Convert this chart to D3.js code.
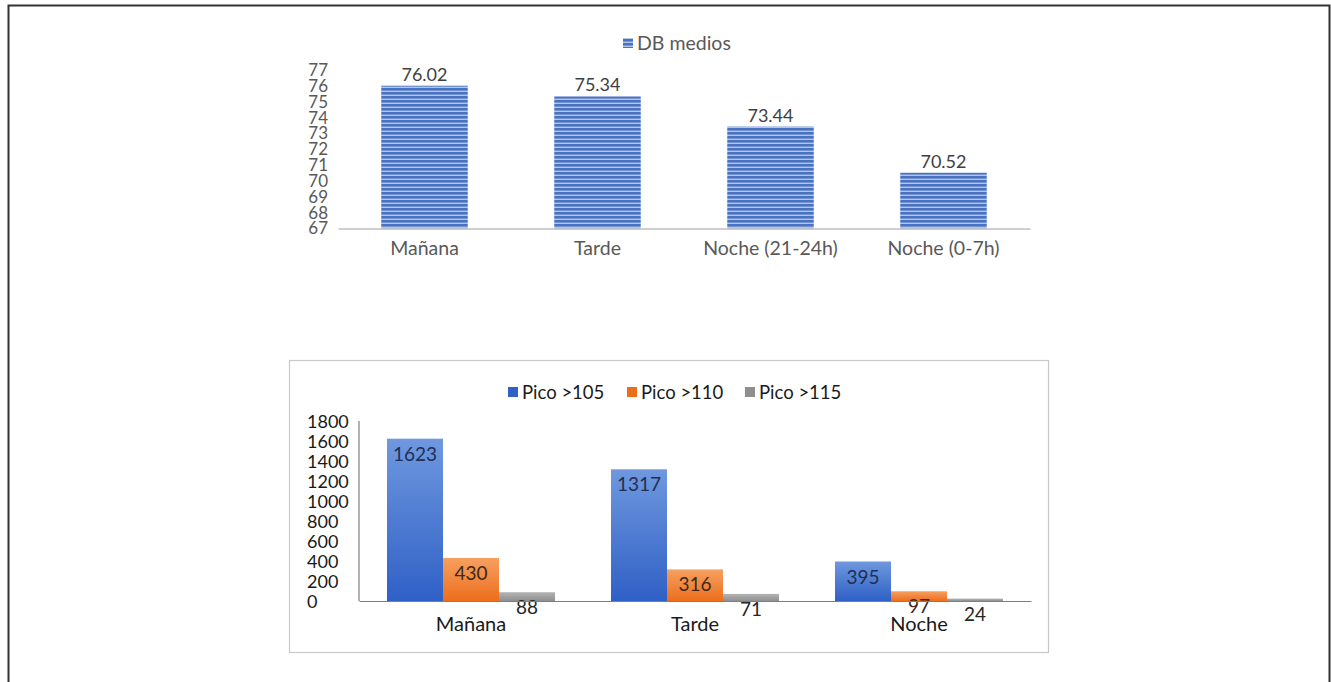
<!DOCTYPE html>
<html lang="es">
<head>
    <meta charset="utf-8">
    <title>DB medios y picos</title>
    <script src="https://d3js.org/d3.v7.min.js"></script>
    <style>
        body { margin: 0; background: white; }
        svg { display: block; font-family: Lato, "Liberation Sans", sans-serif; }
    </style>
</head>
<body>
<div id="chart"></div>
<script>
    // top chart data
    const periodos = ['Mañana', 'Tarde', 'Noche (21-24h)', 'Noche (0-7h)'];
    const dbMedios = [76.02, 75.34, 73.44, 70.52];
    const dbTicks = [67, 68, 69, 70, 71, 72, 73, 74, 75, 76, 77];

    // bottom chart data
    const franjas = ['Mañana', 'Tarde', 'Noche'];
    const series = ['Pico >105', 'Pico >110', 'Pico >115'];
    const pico105 = [1623, 1317, 395];
    const pico110 = [430, 316, 97];
    const pico115 = [88, 71, 24];
    const picoTicks = [0, 200, 400, 600, 800, 1000, 1200, 1400, 1600, 1800];

    const width = 1331, height = 682;

    const svg = d3.select('#chart').append('svg')
        .attr('width', width)
        .attr('height', height);

    const defs = svg.append('defs');

    // horizontal stripe pattern for DB medios
    const pat = defs.append('pattern')
        .attr('id', 'stripes')
        .attr('patternUnits', 'userSpaceOnUse')
        .attr('width', 8).attr('height', 4);
    pat.append('rect').attr('width', 8).attr('height', 4).attr('fill', '#b3c6ea');
    pat.append('rect').attr('width', 8).attr('height', 2.6).attr('fill', '#4a72c2');

    const colors = [
        ['#6f98de', '#2f60c6'],
        ['#f7a060', '#ec6e1c'],
        ['#b4b4b4', '#8f8f8f']
    ];
    colors.forEach((c, i) => {
        const g = defs.append('linearGradient')
            .attr('id', 'grad' + i)
            .attr('x1', 0).attr('y1', 0).attr('x2', 0).attr('y2', 1);
        g.append('stop').attr('offset', '0%').attr('stop-color', c[0]);
        g.append('stop').attr('offset', '100%').attr('stop-color', c[1]);
    });

    // outer frame
    svg.append('path')
        .attr('d', `M8.5,${height} V5.5 H1329.5 V${height}`)
        .attr('fill', 'none')
        .attr('stroke', '#333')
        .attr('stroke-width', 2);

    // ---------- top chart ----------
    const x1 = d3.scaleBand()
        .domain(periodos)
        .range([338, 1030])
        .paddingInner(0.5)
        .paddingOuter(0.25);

    const y1 = d3.scaleLinear()
        .domain([67, 77])
        .range([228.5, 70.2]);

    const topG = svg.append('g');

    topG.selectAll('rect.db')
        .data(dbMedios)
        .join('rect')
        .attr('class', 'db')
        .attr('x', (d, i) => x1(periodos[i]))
        .attr('width', x1.bandwidth())
        .attr('y', d => y1(d))
        .attr('height', d => y1(67) - y1(d))
        .attr('fill', 'url(#stripes)');

    topG.append('g')
        .attr('transform', `translate(0,${y1(67)})`)
        .call(d3.axisBottom(x1).tickSize(0).tickPadding(13).tickSizeOuter(0))
        .call(g => g.select('.domain').attr('stroke', '#bfbfbf').attr('stroke-width', 1.5))
        .call(g => g.selectAll('text')
            .attr('fill', '#595959')
            .style('font-size', '19.5px')
            .style('font-family', 'Lato, sans-serif'));

    topG.append('g')
        .attr('transform', 'translate(328,0)')
        .call(d3.axisLeft(y1).tickValues(dbTicks).tickSize(0).tickPadding(0))
        .call(g => g.select('.domain').remove())
        .call(g => g.selectAll('text')
            .attr('fill', '#595959')
            .style('font-size', '17px')
            .style('font-family', 'Lato, sans-serif'));

    topG.selectAll('text.val')
        .data(dbMedios)
        .join('text')
        .attr('class', 'val')
        .attr('x', (d, i) => x1(periodos[i]) + x1.bandwidth() / 2)
        .attr('y', d => y1(d) - 5)
        .attr('text-anchor', 'middle')
        .attr('fill', '#404040')
        .style('font-size', '18px')
        .text(d => d.toFixed(2));

    const leg1 = topG.append('g').attr('transform', 'translate(623,43)');
    leg1.append('rect')
        .attr('x', 0).attr('y', -5).attr('width', 10).attr('height', 10)
        .attr('fill', 'url(#stripes)');
    leg1.append('text')
        .attr('x', 14).attr('y', 6.5)
        .attr('fill', '#595959')
        .style('font-size', '19.5px')
        .text('DB medios');

    // ---------- bottom chart ----------
    const bottomG = svg.append('g');

    bottomG.append('rect')
        .attr('x', 289.5).attr('y', 360.5)
        .attr('width', 759).attr('height', 292)
        .attr('fill', 'white')
        .attr('stroke', '#c8c8c8')
        .attr('stroke-width', 1.2);

    const x2 = d3.scaleBand()
        .domain(franjas)
        .range([359, 1031])
        .paddingInner(0.25)
        .paddingOuter(0.125);

    const xs = d3.scaleBand()
        .domain(series)
        .range([0, x2.bandwidth()]);

    const y2 = d3.scaleLinear()
        .domain([0, 1800])
        .range([601, 421]);

    const values = [pico105, pico110, pico115];

    const groups = bottomG.selectAll('g.franja')
        .data(franjas)
        .join('g')
        .attr('class', 'franja')
        .attr('transform', d => `translate(${x2(d)},0)`);

    groups.selectAll('rect')
        .data((f, fi) => series.map((s, si) => ({ s: s, si: si, v: values[si][fi] })))
        .join('rect')
        .attr('x', d => xs(d.s))
        .attr('width', xs.bandwidth())
        .attr('y', d => y2(d.v))
        .attr('height', d => y2(0) - y2(d.v))
        .attr('fill', d => `url(#grad${d.si})`);

    const labelColors = ['#1f2f55', '#3a2a1e', '#262626'];
    groups.selectAll('text.val')
        .data((f, fi) => series.map((s, si) => ({ s: s, si: si, v: values[si][fi] })))
        .join('text')
        .attr('class', 'val')
        .attr('x', d => xs(d.s) + xs.bandwidth() / 2)
        .attr('y', d => y2(d.v) + 22)
        .attr('text-anchor', 'middle')
        .attr('fill', d => labelColors[d.si])
        .style('font-size', '19px')
        .text(d => d.v);

    bottomG.append('g')
        .attr('transform', `translate(0,${y2(0)})`)
        .call(d3.axisBottom(x2).tickSize(0).tickPadding(16).tickSizeOuter(0))
        .call(g => g.select('.domain').attr('stroke', '#7f7f7f').attr('stroke-width', 1.2))
        .call(g => g.selectAll('text')
            .attr('fill', '#1a1a1a')
            .style('font-size', '20px')
            .style('font-family', 'Lato, sans-serif'));

    bottomG.append('line')
        .attr('x1', 359).attr('x2', 359)
        .attr('y1', y2(1800)).attr('y2', y2(0))
        .attr('stroke', '#7f7f7f').attr('stroke-width', 1.2);

    bottomG.append('g')
        .selectAll('text')
        .data(picoTicks)
        .join('text')
        .attr('x', 307)
        .attr('y', d => y2(d) + 7)
        .attr('fill', '#1a1a1a')
        .style('font-size', '18px')
        .text(d => d);

    const legX = [508, 627, 745];
    const leg2 = bottomG.selectAll('g.leg')
        .data(series)
        .join('g')
        .attr('class', 'leg')
        .attr('transform', (d, i) => `translate(${legX[i]},392)`);
    leg2.append('rect')
        .attr('x', 0).attr('y', -5).attr('width', 10).attr('height', 10)
        .attr('fill', (d, i) => colors[i][1]);
    leg2.append('text')
        .attr('x', 14).attr('y', 6.5)
        .attr('fill', '#1a1a1a')
        .style('font-size', '18.5px')
        .text(d => d);
</script>
</body>
</html>
